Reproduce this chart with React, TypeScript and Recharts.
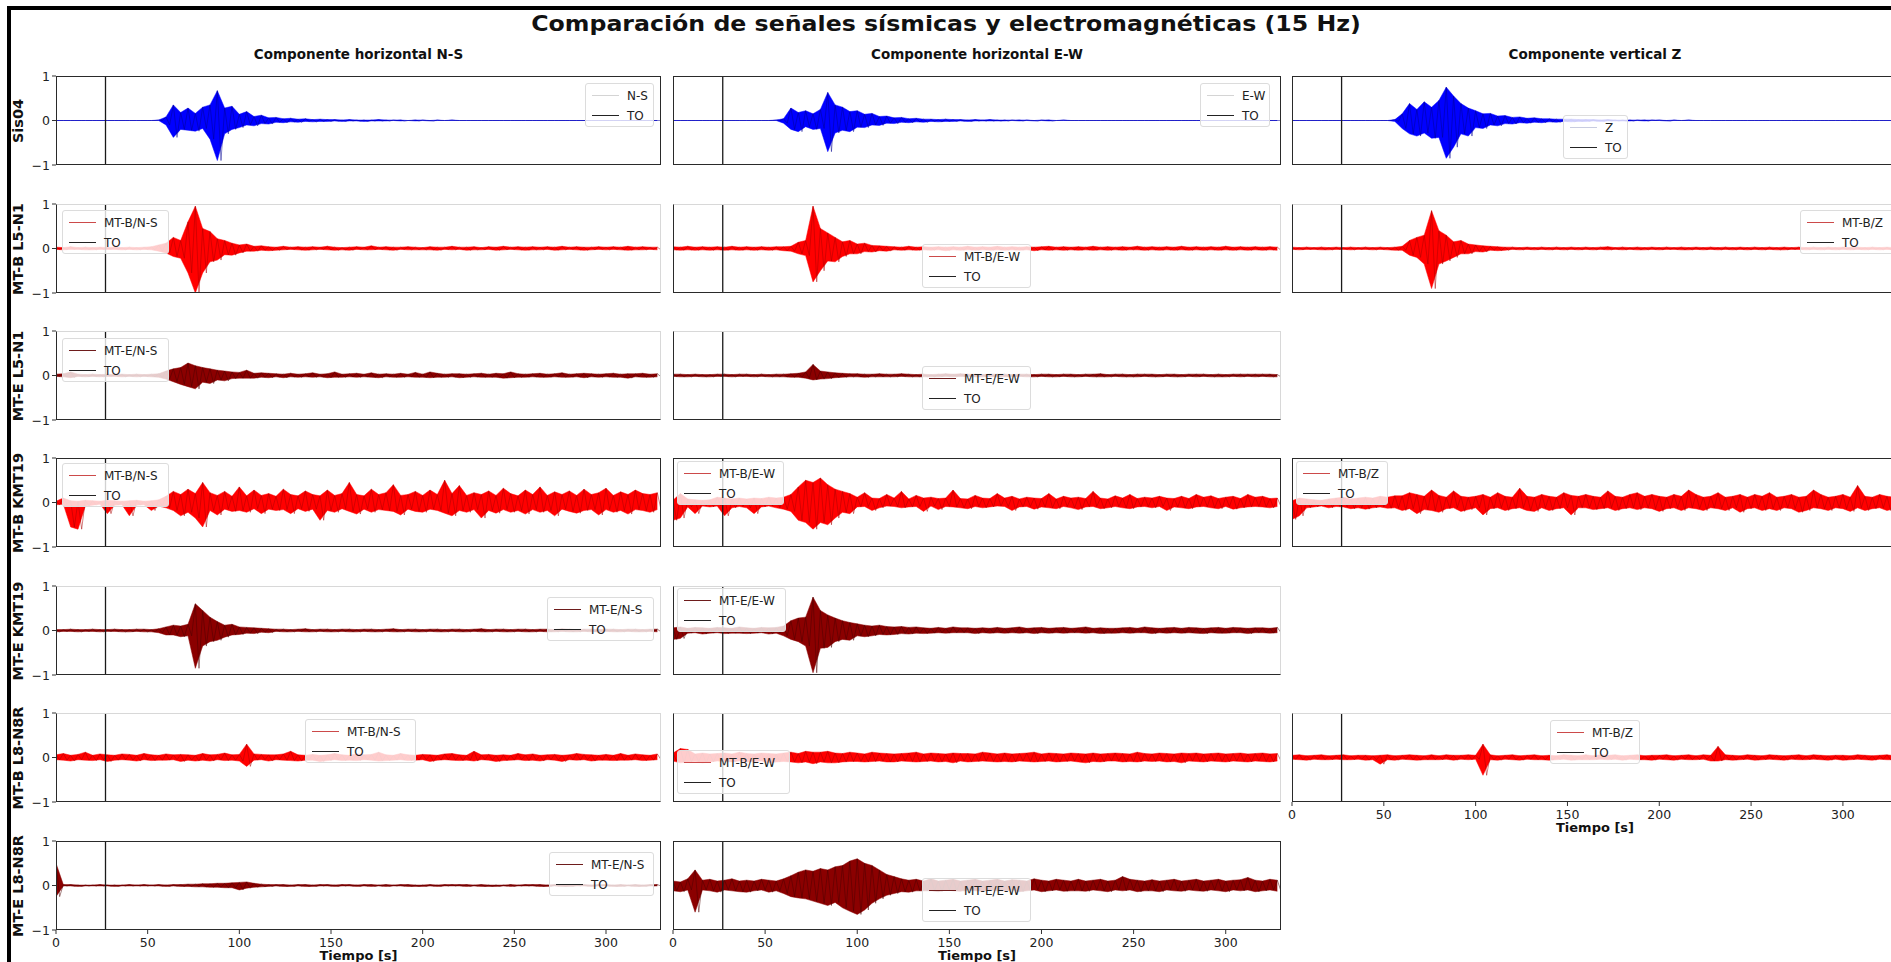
import React from 'react';
import { ComposedChart, Area, Line, XAxis, YAxis, ReferenceLine } from 'recharts';

const FONT = '"DejaVu Sans", sans-serif';
const RED = '#ff0000';
const DRED = '#8b0000';
const BLUE = '#0000ff';
const LRED = '#cc4a4a';
const LDRED = '#6e1c1c';
const TO_TIME = 27;
const BIN = 4; // seconds per envelope bin
const X_TICKS = [0, 50, 100, 150, 200, 250, 300];
const Y_TICKS = [-1, 0, 1];
const TITLE = 'Comparación de señales sísmicas y electromagnéticas (15 Hz)';
const COL_TITLES = ['Componente horizontal N-S', 'Componente horizontal E-W', 'Componente vertical Z'];
const ROW_LABELS = ['Sis04', 'MT-B L5-N1', 'MT-E L5-N1', 'MT-B KMT19', 'MT-E KMT19', 'MT-B L8-N8R', 'MT-E L8-N8R'];

// Each trace: (max, min) pairs per 4 s bin, hundredths of full scale, bins at 0..328 s
const sisNS = [
0,0,0,0,0,0,0,0,0,0,
0,0,0,0,0,0,0,0,0,0,
0,0,0,0,0,0,0,0,1,0,
8,-10,35,-38,18,-20,28,-22,16,-24,
30,-18,35,-42,67,-90,28,-30,32,-20,
14,-16,20,-10,9,-12,12,-7,6,-8,
7,-4,4,-5,5,-3,3,-4,4,-2,
2,-3,3,-2,2,-2,2,-1,1,-2,
2,-1,1,-1,1,-2,1,-1,2,-1,
1,-1,1,0,1,-1,0,0,1,-1,
1,0,0,-1,1,0,0,0,1,0,
0,0,0,0,0,0,0,0,0,0,
0,0,0,0,0,0,0,0,0,0,
0,0,0,0,0,0,0,0,0,0,
0,0,0,0,0,0,0,0,0,0,
0,0,0,0,0,0,0,0,0,0,
0,0,0,0,0,0];
const sisEW = [
0,0,0,0,0,0,0,0,0,0,
0,0,0,0,0,0,0,0,0,0,
0,0,0,0,0,0,0,0,1,0,
4,-6,28,-20,18,-25,22,-14,15,-20,
25,-18,63,-70,35,-28,30,-22,20,-25,
22,-15,14,-16,16,-10,9,-11,10,-6,
6,-7,7,-4,4,-5,5,-3,3,-4,
3,-2,2,-3,3,-2,2,-2,2,-1,
1,-2,2,-1,1,-1,2,-1,1,-1,
1,-1,1,0,1,-1,1,0,0,-1,
1,0,1,-1,0,0,1,0,0,0,
0,0,0,0,0,0,0,0,0,0,
0,0,0,0,0,0,0,0,0,0,
0,0,0,0,0,0,0,0,0,0,
0,0,0,0,0,0,0,0,0,0,
0,0,0,0,0,0,0,0,0,0,
0,0,0,0,0,0];
const sisZ = [
0,0,0,0,0,0,0,0,0,0,
0,0,0,0,0,0,0,0,0,0,
0,0,0,0,0,0,0,0,2,-2,
15,-18,38,-30,25,-35,42,-28,30,-40,
45,-38,75,-85,55,-60,38,-30,28,-35,
22,-16,15,-18,16,-10,10,-12,11,-7,
7,-8,8,-5,5,-6,6,-4,4,-5,
4,-3,3,-4,3,-2,3,-3,2,-2,
2,-2,2,-1,1,-2,2,-1,1,-1,
1,-1,1,-1,1,0,1,-1,1,0,
1,0,0,-1,1,0,0,0,1,0,
0,0,0,0,0,0,0,0,0,0,
0,0,0,0,0,0,0,0,0,0,
0,0,0,0,0,0,0,0,0,0,
0,0,0,0,0,0,0,0,0,0,
0,0,0,0,0,0,0,0,0,0,
0,0,0,0,0,0];
const bL5NS = [
3,-2,2,-3,4,-2,2,-2,3,-3,
2,-3,3,-2,2,-2,3,-2,2,-3,
3,-2,2,-3,3,-2,4,-3,8,-6,
12,-10,25,-18,18,-22,60,-55,95,-100,
45,-55,38,-30,22,-26,18,-14,12,-15,
8,-10,10,-6,5,-6,6,-4,4,-5,
3,-4,5,-3,3,-2,4,-3,3,-4,
4,-3,3,-2,5,-3,3,-4,2,-3,
3,-4,4,-2,3,-3,6,-3,3,-2,
4,-3,3,-4,3,-2,4,-3,3,-3,
2,-3,4,-3,3,-4,3,-2,5,-3,
3,-2,3,-4,4,-3,2,-3,4,-2,
3,-4,5,-3,3,-2,4,-3,3,-4,
4,-3,3,-3,4,-2,3,-4,5,-3,
3,-2,4,-3,3,-4,3,-3,4,-2,
3,-3,4,-2,3,-3,5,-4,3,-3,
4,-3,3,-2,3,-3];
const bL5EW = [
4,-3,3,-4,5,-3,3,-4,4,-3,
3,-4,4,-3,3,-4,5,-3,3,-4,
4,-3,3,-4,4,-3,3,-4,4,-3,
4,-5,5,-6,14,-12,18,-16,95,-75,
45,-50,35,-28,25,-30,15,-18,18,-12,
10,-12,12,-7,7,-8,6,-5,5,-6,
4,-3,3,-4,5,-3,3,-4,4,-3,
3,-4,4,-3,3,-5,4,-3,3,-4,
5,-3,3,-4,4,-3,3,-4,5,-3,
3,-4,4,-3,3,-4,4,-3,3,-5,
4,-3,5,-4,3,-3,4,-4,3,-3,
4,-4,3,-3,5,-4,3,-3,4,-4,
3,-3,4,-4,3,-3,5,-3,3,-4,
4,-3,3,-4,4,-3,3,-4,5,-3,
3,-4,4,-3,3,-4,4,-3,3,-4,
5,-3,3,-4,4,-3,3,-4,4,-3,
3,-4,4,-3,3,-4];
const bL5Z = [
3,-2,2,-3,3,-2,2,-2,3,-3,
2,-3,3,-2,2,-2,3,-3,2,-2,
3,-2,2,-3,3,-2,2,-3,3,-4,
5,-4,18,-15,25,-20,30,-35,85,-90,
40,-35,30,-28,15,-20,18,-12,10,-12,
8,-7,6,-8,5,-4,4,-5,3,-4,
3,-2,2,-3,3,-2,2,-3,3,-2,
2,-3,3,-2,2,-3,3,-2,2,-3,
3,-2,2,-3,3,-2,4,-3,2,-2,
3,-3,2,-2,3,-3,2,-3,3,-2,
2,-3,3,-2,2,-2,3,-3,2,-3,
3,-2,2,-3,3,-2,2,-3,3,-2,
2,-3,3,-2,2,-3,3,-2,2,-3,
3,-2,2,-3,3,-3,2,-2,3,-2,
2,-3,3,-2,2,-3,3,-2,2,-3,
3,-2,2,-3,3,-2,2,-3,3,-2,
2,-3,3,-2,2,-3];
const eL5NS = [
3,-2,4,-3,8,-5,3,-2,2,-3,
3,-2,2,-3,3,-2,2,-2,3,-3,
2,-2,3,-3,2,-2,3,-3,4,-4,
10,-8,15,-14,18,-20,28,-25,22,-30,
18,-15,15,-18,12,-10,10,-12,8,-7,
7,-6,12,-6,5,-6,6,-4,5,-5,
4,-3,3,-5,5,-3,3,-4,4,-3,
6,-4,3,-3,4,-5,8,-4,3,-4,
4,-3,5,-4,3,-3,6,-4,3,-5,
4,-3,3,-4,5,-4,3,-3,7,-4,
3,-4,8,-5,5,-4,3,-4,4,-3,
4,-5,3,-4,4,-3,5,-4,3,-4,
5,-4,4,-6,8,-5,4,-4,3,-4,
4,-3,5,-4,3,-4,4,-3,6,-4,
3,-4,4,-3,5,-5,4,-3,3,-4,
4,-3,5,-4,3,-4,4,-6,4,-3,
5,-4,3,-4,4,-3];
const eL5EW = [
3,-2,3,-3,2,-3,3,-2,2,-3,
2,-3,3,-2,3,-2,2,-3,3,-2,
3,-2,2,-3,3,-2,2,-3,3,-3,
3,-3,4,-4,5,-4,8,-6,25,-10,
10,-8,8,-7,6,-5,5,-4,4,-3,
4,-3,3,-4,3,-3,4,-3,3,-3,
3,-3,4,-2,3,-3,2,-3,3,-3,
2,-3,3,-3,4,-2,3,-3,4,-2,
3,-2,3,-3,2,-3,3,-2,3,-3,
3,-3,2,-3,3,-2,3,-3,2,-3,
3,-2,3,-3,2,-3,3,-2,3,-3,
2,-3,3,-2,3,-3,4,-3,2,-3,
3,-2,3,-3,2,-3,3,-3,3,-2,
3,-3,2,-3,3,-2,3,-3,2,-3,
3,-2,3,-3,3,-2,2,-3,3,-3,
2,-3,3,-2,3,-3,3,-2,3,-3,
3,-2,3,-3,2,-3];
const bKNS = [
3,-5,10,-4,4,-55,3,-60,5,-8,
4,-6,3,-4,5,-25,4,-6,3,-5,
4,-30,5,-6,3,-5,4,-18,6,-8,
14,-12,25,-18,18,-30,30,-22,20,-35,
45,-55,22,-18,16,-28,25,-15,14,-20,
35,-18,15,-22,28,-14,16,-25,20,-15,
14,-18,30,-16,18,-25,15,-14,26,-20,
18,-15,15,-40,28,-18,16,-22,20,-14,
45,-20,18,-26,15,-15,30,-22,18,-16,
22,-18,40,-20,16,-28,18,-15,25,-20,
16,-22,28,-15,18,-18,50,-24,20,-30,
38,-18,16,-22,22,-16,18,-35,26,-18,
16,-24,32,-16,20,-22,15,-18,28,-26,
18,-16,35,-22,16,-18,24,-30,18,-15,
26,-20,16,-24,30,-18,18,-16,22,-28,
32,-16,16,-22,24,-18,18,-26,28,-16,
20,-18,18,-22,22,-16];
const bKEW = [
5,-40,20,-35,8,-10,6,-25,5,-8,
6,-10,12,-8,10,-30,8,-12,10,-9,
8,-12,10,-25,9,-10,12,-8,10,-12,
12,-15,18,-20,35,-40,50,-45,45,-60,
55,-45,40,-50,30,-35,25,-22,20,-25,
12,-10,22,-9,10,-18,9,-12,18,-8,
10,-9,25,-12,8,-10,16,-9,10,-20,
12,-8,9,-16,10,-9,28,-10,9,-12,
8,-14,16,-9,10,-12,9,-10,20,-8,
10,-9,14,-18,8,-10,12,-9,10,-15,
9,-10,20,-12,8,-14,14,-9,10,-12,
12,-16,9,-10,25,-9,10,-14,8,-12,
15,-9,10,-12,18,-14,9,-10,12,-9,
10,-12,14,-9,10,-18,9,-10,14,-12,
9,-14,18,-10,12,-9,15,-12,9,-14,
12,-9,14,-15,9,-12,18,-10,12,-9,
14,-10,9,-12,10,-9];
const bKZ = [
4,-38,10,-30,8,-12,6,-10,5,-8,
8,-12,10,-9,12,-10,8,-14,10,-12,
12,-15,10,-12,14,-10,12,-13,15,-12,
15,-18,22,-14,18,-25,14,-16,28,-18,
16,-22,12,-14,26,-12,14,-20,12,-16,
14,-12,18,-28,12,-14,22,-12,14,-18,
12,-14,32,-12,14,-18,12,-20,18,-12,
14,-18,12,-14,22,-12,16,-28,14,-12,
18,-12,14,-16,12,-14,26,-12,14,-18,
12,-14,18,-12,22,-16,14,-12,18,-14,
14,-20,12,-14,18,-12,14,-18,28,-12,
18,-14,12,-18,14,-12,22,-14,12,-18,
14,-12,18,-22,12,-14,18,-12,14,-18,
22,-14,12,-18,14,-12,18,-14,12,-22,
14,-18,28,-12,18,-14,12,-18,14,-12,
18,-14,12,-20,38,-12,14,-18,12,-14,
18,-12,14,-18,12,-14];
const eKNS = [
2,-3,2,-2,3,-2,2,-3,2,-2,
3,-2,2,-3,2,-2,3,-2,2,-3,
2,-3,3,-2,3,-3,2,-3,4,-5,
8,-10,12,-10,10,-14,14,-12,60,-85,
45,-35,30,-25,20,-22,12,-15,14,-10,
8,-9,7,-6,6,-7,5,-4,4,-5,
3,-2,3,-3,2,-3,3,-2,4,-3,
2,-3,3,-2,3,-3,2,-3,3,-2,
3,-3,2,-3,3,-2,3,-3,2,-3,
3,-2,4,-3,2,-3,3,-2,3,-3,
2,-3,3,-2,3,-3,2,-3,3,-2,
3,-3,2,-3,3,-2,4,-3,2,-3,
3,-2,3,-3,2,-3,3,-2,3,-3,
2,-3,3,-2,3,-3,2,-3,4,-2,
3,-3,2,-3,3,-2,3,-3,2,-3,
3,-2,3,-3,2,-3,3,-2,3,-3,
2,-3,3,-2,3,-3];
const eKEW = [
6,-20,8,-18,5,-6,7,-5,6,-8,
5,-6,7,-5,6,-7,5,-6,8,-6,
6,-7,5,-6,7,-5,6,-8,7,-6,
10,-12,22,-20,28,-25,30,-35,75,-95,
45,-40,35,-38,28,-25,22,-20,18,-22,
15,-12,12,-14,10,-12,12,-9,9,-10,
8,-9,9,-7,7,-8,8,-6,6,-7,
5,-6,7,-5,5,-6,8,-5,6,-5,
6,-5,5,-7,6,-5,5,-6,7,-5,
5,-6,6,-5,8,-6,5,-5,6,-7,
7,-5,5,-6,6,-5,7,-6,5,-5,
6,-5,8,-6,5,-5,6,-7,5,-6,
5,-6,6,-5,7,-6,5,-5,8,-5,
6,-7,5,-5,6,-6,7,-5,5,-6,
7,-5,6,-6,5,-7,6,-5,7,-6,
5,-6,7,-5,6,-5,5,-7,6,-5,
6,-5,5,-6,7,-5];
const bL8NS = [
6,-5,9,-6,5,-8,7,-5,12,-6,
5,-7,8,-5,6,-9,5,-6,8,-5,
7,-6,5,-8,9,-5,6,-7,5,-6,
8,-6,6,-5,7,-9,6,-6,5,-8,
9,-6,6,-8,7,-5,10,-7,6,-6,
7,-8,30,-20,8,-6,7,-5,6,-8,
6,-5,8,-6,14,-7,6,-8,5,-6,
7,-6,5,-9,6,-7,9,-5,6,-7,
5,-6,8,-7,6,-5,7,-6,12,-8,
6,-7,5,-6,9,-5,6,-7,5,-6,
7,-5,6,-9,5,-6,8,-5,9,-6,
6,-7,5,-6,14,-8,6,-5,7,-6,
5,-9,6,-7,5,-6,9,-5,6,-7,
8,-6,5,-8,6,-5,7,-6,5,-9,
6,-5,9,-6,7,-5,6,-8,5,-6,
7,-6,5,-7,9,-6,5,-6,8,-5,
6,-7,5,-6,8,-5];
const bL8EW = [
10,-8,20,-12,18,-10,8,-9,10,-12,
8,-10,9,-8,10,-9,8,-10,12,-8,
9,-10,8,-9,10,-8,9,-12,8,-10,
10,-9,12,-10,9,-12,14,-10,12,-14,
12,-10,14,-12,10,-12,9,-10,12,-9,
10,-9,8,-10,12,-9,10,-8,9,-10,
8,-10,9,-8,10,-9,12,-10,8,-9,
10,-8,9,-10,8,-9,10,-12,9,-8,
9,-10,8,-9,12,-8,10,-9,8,-10,
10,-9,8,-10,9,-8,10,-9,12,-10,
8,-9,10,-8,9,-10,8,-9,10,-8,
9,-10,8,-12,10,-9,8,-10,9,-8,
10,-8,9,-10,8,-9,12,-10,9,-8,
8,-9,10,-8,9,-10,8,-9,10,-12,
9,-8,10,-9,8,-10,9,-8,10,-9,
8,-10,9,-8,10,-9,8,-10,9,-8,
10,-9,8,-10,9,-8];
const bL8Z = [
5,-4,6,-5,4,-6,5,-4,6,-5,
4,-5,5,-4,6,-5,4,-5,5,-4,
5,-6,4,-5,5,-15,6,-5,4,-6,
5,-4,6,-5,5,-6,4,-5,6,-5,
4,-5,6,-4,5,-6,5,-4,6,-5,
5,-4,30,-40,6,-5,4,-6,5,-4,
6,-5,4,-6,5,-4,6,-5,4,-5,
5,-6,4,-5,6,-4,5,-6,4,-5,
6,-5,4,-5,6,-4,5,-5,6,-4,
4,-6,5,-4,6,-5,4,-5,5,-6,
5,-4,6,-5,4,-6,5,-4,6,-5,
4,-5,6,-4,5,-8,25,-8,6,-5,
5,-6,4,-5,6,-4,5,-6,4,-5,
6,-4,5,-5,4,-6,5,-4,6,-5,
4,-5,6,-4,5,-5,4,-6,5,-4,
5,-6,4,-5,6,-4,5,-5,4,-6,
5,-4,6,-5,4,-5];
const eL8NS = [
50,-25,2,-1,2,-1,1,-2,1,-1,
1,-1,2,-1,1,-1,1,-2,1,-1,
2,-1,1,-1,2,-1,1,-1,2,-1,
1,-2,2,-1,2,-2,3,-2,3,-3,
4,-3,4,-4,5,-4,5,-5,6,-5,
7,-10,8,-6,5,-4,3,-3,2,-2,
2,-1,2,-2,1,-2,2,-1,2,-2,
1,-2,2,-1,2,-1,1,-2,2,-1,
2,-1,1,-2,2,-1,2,-2,1,-1,
2,-2,1,-1,2,-1,2,-2,1,-2,
1,-2,2,-1,1,-2,2,-1,2,-1,
2,-1,2,-2,1,-1,2,-2,1,-2,
1,-2,1,-1,2,-2,1,-1,2,-1,
2,-1,2,-2,1,-2,2,-1,1,-2,
1,-2,2,-1,2,-1,1,-2,2,-1,
2,-1,1,-2,2,-2,1,-1,2,-2,
1,-2,2,-1,2,-1];
const eL8EW = [
10,-12,8,-14,15,-10,35,-60,12,-10,
14,-12,10,-15,12,-10,15,-12,10,-14,
12,-15,10,-12,14,-10,12,-15,10,-12,
15,-18,22,-25,30,-28,35,-30,32,-35,
38,-40,35,-45,42,-38,45,-50,55,-58,
60,-65,50,-55,45,-40,35,-30,25,-22,
20,-18,15,-14,12,-15,14,-12,10,-12,
15,-12,10,-14,12,-10,14,-12,10,-13,
12,-10,14,-12,10,-13,12,-10,14,-12,
10,-12,13,-10,12,-14,10,-12,15,-10,
12,-14,10,-12,14,-10,12,-13,10,-12,
14,-12,10,-13,12,-10,14,-12,10,-14,
12,-10,20,-12,14,-10,12,-14,10,-12,
13,-12,10,-14,12,-10,14,-12,10,-13,
12,-10,14,-12,10,-13,12,-10,14,-12,
10,-14,12,-10,13,-12,18,-10,12,-14,
10,-12,14,-10,12,-13];

const SERIES: Record<string, number[]> = {
  sisNS, sisEW, sisZ, bL5NS, bL5EW, bL5Z, eL5NS, eL5EW,
  bKNS, bKEW, bKZ, eKNS, eKEW, bL8NS, bL8EW, bL8Z, eL8NS, eL8EW,
};
const NBIN = sisNS.length / 2;
// Rows every half bin: at the bin time the envelope range [min, max] and the trace at max;
// half a bin later the trace at min (the trace swings between the read extremes).
const TABLE = Array.from({ length: NBIN * 2 }, (_, j) => {
  const k = Math.floor(j / 2);
  const row: Record<string, any> = { t: (j * BIN) / 2 };
  for (const key of Object.keys(SERIES)) {
    const hi = SERIES[key][2 * k] / 100;
    const lo = SERIES[key][2 * k + 1] / 100;
    if (j % 2 === 0) {
      row[key] = [Math.min(lo, hi), Math.max(lo, hi)];
      row[key + '_w'] = hi;
    } else {
      row[key] = null;
      row[key + '_w'] = lo;
    }
  }
  return row;
});

// layout (pixels)
const COLS = [{ x: 56, w: 605 }, { x: 673, w: 608 }, { x: 1292, w: 606 }];
const ROWS = [76, 204, 331, 458, 586, 713, 841];
const PH = 89;
const TOP_DARK = [true, false, false, true, false, false, true];

type Leg = { x: number; y: number; w: number; label: string; lc: string };
type P = { row: number; col: number; key: string; color: string; edge: string; bottom?: boolean; leg: Leg };

const PANELS: P[] = [
  { row: 0, col: 0, key: 'sisNS', color: BLUE, edge: '#000090', leg: { x: 585, y: 83, w: 69, label: 'N-S', lc: '#d4d4d4' } },
  { row: 0, col: 1, key: 'sisEW', color: BLUE, edge: '#000090', leg: { x: 1200, y: 83, w: 70, label: 'E-W', lc: '#d4d4d4' } },
  { row: 0, col: 2, key: 'sisZ', color: BLUE, edge: '#000090', leg: { x: 1563, y: 115, w: 65, label: 'Z', lc: '#c8cce0' } },
  { row: 1, col: 0, key: 'bL5NS', color: RED, edge: '#a80000', leg: { x: 62, y: 210, w: 107, label: 'MT-B/N-S', lc: LRED } },
  { row: 1, col: 1, key: 'bL5EW', color: RED, edge: '#a80000', leg: { x: 922, y: 244, w: 109, label: 'MT-B/E-W', lc: LRED } },
  { row: 1, col: 2, key: 'bL5Z', color: RED, edge: '#a80000', leg: { x: 1800, y: 210, w: 100, label: 'MT-B/Z', lc: LRED } },
  { row: 2, col: 0, key: 'eL5NS', color: DRED, edge: '#4a0000', leg: { x: 62, y: 338, w: 107, label: 'MT-E/N-S', lc: LDRED } },
  { row: 2, col: 1, key: 'eL5EW', color: DRED, edge: '#4a0000', leg: { x: 922, y: 366, w: 109, label: 'MT-E/E-W', lc: LDRED } },
  { row: 3, col: 0, key: 'bKNS', color: RED, edge: '#a80000', leg: { x: 62, y: 463, w: 107, label: 'MT-B/N-S', lc: LRED } },
  { row: 3, col: 1, key: 'bKEW', color: RED, edge: '#a80000', leg: { x: 677, y: 461, w: 107, label: 'MT-B/E-W', lc: LRED } },
  { row: 3, col: 2, key: 'bKZ', color: RED, edge: '#a80000', leg: { x: 1296, y: 461, w: 92, label: 'MT-B/Z', lc: LRED } },
  { row: 4, col: 0, key: 'eKNS', color: DRED, edge: '#4a0000', leg: { x: 547, y: 597, w: 107, label: 'MT-E/N-S', lc: LDRED } },
  { row: 4, col: 1, key: 'eKEW', color: DRED, edge: '#4a0000', leg: { x: 677, y: 588, w: 109, label: 'MT-E/E-W', lc: LDRED } },
  { row: 5, col: 0, key: 'bL8NS', color: RED, edge: '#a80000', leg: { x: 305, y: 719, w: 111, label: 'MT-B/N-S', lc: LRED } },
  { row: 5, col: 1, key: 'bL8EW', color: RED, edge: '#a80000', leg: { x: 677, y: 750, w: 113, label: 'MT-B/E-W', lc: LRED } },
  { row: 5, col: 2, key: 'bL8Z', color: RED, edge: '#a80000', bottom: true, leg: { x: 1550, y: 720, w: 90, label: 'MT-B/Z', lc: LRED } },
  { row: 6, col: 0, key: 'eL8NS', color: DRED, edge: '#4a0000', bottom: true, leg: { x: 549, y: 852, w: 105, label: 'MT-E/N-S', lc: LDRED } },
  { row: 6, col: 1, key: 'eL8EW', color: DRED, edge: '#4a0000', bottom: true, leg: { x: 922, y: 878, w: 109, label: 'MT-E/E-W', lc: LDRED } },
];

const fmt = (v: number) => (v < 0 ? '\u2212' + Math.abs(v) : String(v));

const XTick = (props: any) => {
  const { x, y, payload } = props;
  return (
    <text x={x} y={y + 11} textAnchor="middle" fontSize={12.5} fontFamily={FONT} fill="#222">
      {payload.value}
    </text>
  );
};
const YTick = (props: any) => {
  const { x, y, payload } = props;
  return (
    <text x={x} y={y + 4.5} textAnchor="end" fontSize={12.5} fontFamily={FONT} fill="#222">
      {fmt(payload.value)}
    </text>
  );
};

const Txt = ({ cx, cy, children, style }: any) => (
  <div
    style={{
      position: 'absolute', left: cx, top: cy, transform: 'translate(-50%, -50%)',
      whiteSpace: 'nowrap', lineHeight: 1, fontFamily: FONT, color: '#111', ...style,
    }}
  >
    {children}
  </div>
);

function LegendBox({ leg }: { leg: Leg }) {
  const rows = [
    { c: leg.lc, t: leg.label, y: 12 },
    { c: '#222', t: 'TO', y: 32 },
  ];
  return (
    <div
      style={{
        position: 'absolute', left: leg.x, top: leg.y, width: leg.w, height: 44,
        background: 'rgba(255,255,255,0.8)', border: '1px solid #dcdcdc', borderRadius: 3,
        boxSizing: 'border-box',
      }}
    >
      {rows.map((r) => (
        <React.Fragment key={r.t}>
          <div style={{ position: 'absolute', left: 6, top: r.y - 1, width: 27, height: 1.3, background: r.c }} />
          <div
            style={{
              position: 'absolute', left: 41, top: r.y, transform: 'translateY(-50%)', lineHeight: 1,
              fontFamily: FONT, fontSize: 12, color: '#222', whiteSpace: 'nowrap',
            }}
          >
            {r.t}
          </div>
        </React.Fragment>
      ))}
    </div>
  );
}

function Panel({ p }: { p: P }) {
  const c = COLS[p.col];
  const top = ROWS[p.row];
  const YW = 44, MT = 8, MR = 6;
  const XH = p.bottom ? 22 : 12;
  const W = YW + c.w + MR;
  const H = MT + PH + XH;
  const frame = TOP_DARK[p.row] ? '#2a2a2a' : '#d8d8d8';
  return (
    <>
      <div style={{ position: 'absolute', left: c.x - YW, top: top - MT }}>
        <ComposedChart width={W} height={H} data={TABLE} margin={{ top: MT, right: MR, bottom: 0, left: 0 }}>
          <XAxis
            type="number" dataKey="t" domain={[0, 330]} ticks={X_TICKS} allowDataOverflow
            axisLine={false} tickLine={{ stroke: '#333' }} tickSize={4} height={XH} interval={0}
            tick={p.bottom ? XTick : false}
          />
          <YAxis
            type="number" domain={[-1, 1]} ticks={Y_TICKS} width={YW} allowDataOverflow interval={0}
            axisLine={false} tickLine={p.col === 0 ? { stroke: '#333' } : false} tickSize={4}
            tick={p.col === 0 ? YTick : false}
          />
          <Area
            type="linear" dataKey={p.key} stroke={p.color} strokeWidth={0.5} fill={p.color}
            fillOpacity={1} connectNulls dot={false} activeDot={false} isAnimationActive={false}
          />
          <Line
            type="linear" dataKey={p.key + '_w'} stroke={p.edge} strokeWidth={0.5}
            dot={false} activeDot={false} isAnimationActive={false}
          />
          <ReferenceLine x={TO_TIME} stroke="#1a1a1a" strokeWidth={1.3} />
        </ComposedChart>
      </div>
      <div
        style={{
          position: 'absolute', left: c.x, top, width: c.w, height: PH, boxSizing: 'border-box',
          borderLeft: '1px solid #2a2a2a', borderBottom: '1px solid #2a2a2a',
          borderTop: `1px solid ${frame}`, borderRight: `1px solid ${frame}`,
        }}
      />
      {p.bottom && (
        <Txt cx={c.x + c.w / 2} cy={top + PH + 25} style={{ fontSize: 13, fontWeight: 'bold' }}>
          Tiempo [s]
        </Txt>
      )}
      <LegendBox leg={p.leg} />
    </>
  );
}

export default function App() {
  return (
    <div
      style={{
        position: 'fixed', left: 0, top: 0, width: 1891, height: 962, overflow: 'hidden',
        background: '#fff', fontFamily: FONT,
      }}
    >
      <div
        style={{
          position: 'absolute', left: 7, top: 6, width: 1950, height: 1000,
          border: '4px solid #000', boxSizing: 'border-box',
        }}
      />
      <Txt
        cx={946} cy={24}
        style={{ fontSize: 21.5, fontWeight: 'bold', transform: 'translate(-50%, -50%) scaleX(1.1)' }}
      >
        {TITLE}
      </Txt>
      {COL_TITLES.map((t, i) => (
        <Txt key={t} cx={COLS[i].x + COLS[i].w / 2} cy={55} style={{ fontSize: 13.5, fontWeight: 'bold' }}>
          {t}
        </Txt>
      ))}
      {ROW_LABELS.map((t, i) => (
        <Txt
          key={t} cx={18} cy={ROWS[i] + PH / 2}
          style={{ fontSize: 14.5, fontWeight: 'bold', transform: 'translate(-50%, -50%) rotate(-90deg)' }}
        >
          {t}
        </Txt>
      ))}
      {PANELS.map((p) => (
        <Panel key={p.key} p={p} />
      ))}
    </div>
  );
}
